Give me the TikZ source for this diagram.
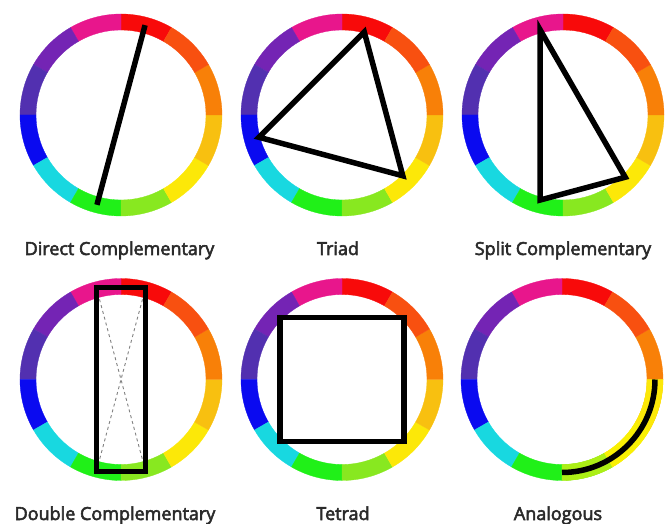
\documentclass[tikz,border=0pt]{standalone}
\usepackage{fontspec}
\setmainfont{Open Sans}
\newfontfamily\labelfont{Open Sans}[FakeBold=3]
\usepackage{tikz}
\usetikzlibrary{calc, positioning}

% wheel colours
\definecolor{cRed}{HTML}{F80A0A}
\definecolor{cMagenta}{HTML}{E8168C}
\definecolor{cPurple}{HTML}{7424B4}
\definecolor{cIndigo}{HTML}{5230B0}
\definecolor{cBlue}{HTML}{0A0AF0}
\definecolor{cCyan}{HTML}{18D8E0}
\definecolor{cGreen}{HTML}{20F018}
\definecolor{cLime}{HTML}{88E820}
\definecolor{cYellow}{HTML}{FCE808}
\definecolor{cAmber}{HTML}{F8C010}
\definecolor{cOrange}{HTML}{F88008}
\definecolor{cRedOrange}{HTML}{F85010}
\definecolor{cLabel}{HTML}{2A2A2A}

\begin{document}
\begin{tikzpicture}[x=1pt, y=1pt,
  scheme/.style={line width=5.5pt, black, line join=miter},
  label/.style={font=\labelfont\fontsize{18}{21}\selectfont, text=cLabel, anchor=base}]
  \useasboundingbox (0,0) rectangle (665,523);

  % Wheel centres
  \coordinate (W1) at (121,408);
  \coordinate (W2) at (342,408);
  \coordinate (W3) at (563,408);
  \coordinate (W4) at (121,143.5);
  \coordinate (W5) at (342,143.5);
  \coordinate (W6) at (562,143.5);

  % Colour rings (12 segments each)
  \foreach \w in {W1,W2,W3,W4,W5,W6} {
    \foreach \a/\c in {60/cRed, 90/cMagenta, 120/cPurple, 150/cIndigo,
                       180/cBlue, 210/cCyan, 240/cGreen, 270/cLime,
                       300/cYellow, 330/cAmber, 0/cOrange, 30/cRedOrange} {
      \fill[\c, draw=\c, line width=0.3pt, shift={(\w)}]
        (\a:101) arc (\a:\a+30:101) -- (\a+30:85) arc (\a+30:\a:85) -- cycle;
    }
  }

  % Analogous wheel: lighter yellow run
  \foreach \a/\c in {270/cLime!70!yellow, 300/yellow!95!cLime, 330/cYellow} {
    \fill[\c, draw=\c, line width=0.3pt, shift={(W6)}]
      (\a:101) arc (\a:\a+30:101) -- (\a+30:85) arc (\a+30:\a:85) -- cycle;
  }

  % Direct complementary
  \coordinate (D1) at ($(W1)+(75:93)$);
  \coordinate (D2) at ($(W1)+(255:93)$);
  \draw[scheme] (D1) -- (D2);

  % Triad
  \coordinate (T1) at ($(W2)+(75:86)$);
  \coordinate (T2) at ($(W2)+(195:86)$);
  \coordinate (T3) at ($(W2)+(315:86)$);
  \draw[scheme] (T1) -- (T2) -- (T3) -- cycle;

  % Split complementary
  \coordinate (S1) at ($(W3)+(105:88)$);
  \coordinate (S2) at ($(W3)+(255:88)$);
  \coordinate (S3) at ($(W3)+(315:88)$);
  \draw[scheme] (S1) -- (S2) -- (S3) -- cycle;

  % Double complementary
  \coordinate (Q1) at ($(W4)+(75:95)$);
  \coordinate (Q2) at ($(W4)+(105:95)$);
  \coordinate (Q3) at ($(W4)+(255:95)$);
  \coordinate (Q4) at ($(W4)+(285:95)$);
  \draw[gray, dashed, line width=0.9pt] (Q2) -- (Q4) (Q1) -- (Q3);
  \draw[scheme] (Q1) -- (Q2) -- (Q3) -- (Q4) -- cycle;

  % Tetrad
  \coordinate (R1) at ($(W5)+(45:88)$);
  \coordinate (R2) at ($(W5)+(135:88)$);
  \coordinate (R3) at ($(W5)+(225:88)$);
  \coordinate (R4) at ($(W5)+(315:88)$);
  \draw[scheme] (R1) -- (R2) -- (R3) -- (R4) -- cycle;

  % Analogous
  \draw[scheme, shift={(W6)}] (0:93) arc (0:-90:93);

  % Labels
  \node[label] (L1) at (119.5,268) {Direct Complementary};
  \node[label] (L2) at (338,268) {Triad};
  \node[label] (L3) at (563,268) {Split Complementary};
  \node[label] (L4) at (115,3) {Double Complementary};
  \node[label] (L5) at (343,3) {Tetrad};
  \node[label] (L6) at (558,3) {Analogous};
\end{tikzpicture}
\end{document}
